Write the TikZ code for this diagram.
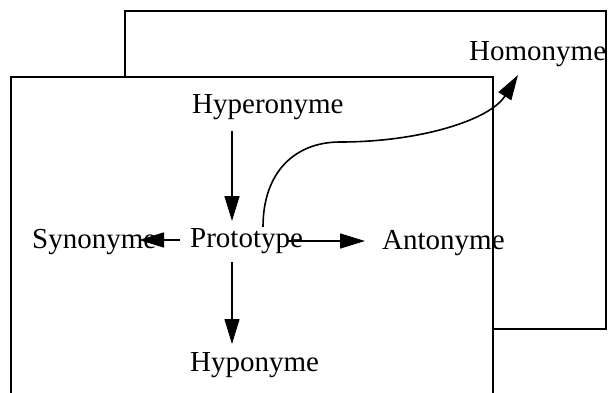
\documentclass[tikz,border=0pt]{standalone}
\usepackage{fontspec}
\setmainfont{Liberation Serif}
\usetikzlibrary{arrows.meta}
\begin{document}
\begin{tikzpicture}[x=1pt,y=-1pt,
  lbl/.style={anchor=base west,inner sep=0pt,font=\fontsize{29}{32}\selectfont},
  frame/.style={draw=black,line width=2pt,fill=white},
  arr/.style={line width=1.6pt,-{Triangle[length=25pt,width=15pt]}}]
\useasboundingbox (0,0) rectangle (608,392);
\draw[frame] (125,11) rectangle (606,329);
\draw[frame] (11,77) rectangle (493,396);
\node[lbl] (homo) at (469,60) {Homonyme};
\node[lbl] (hyper) at (192,113) {Hyperonyme};
\node[lbl] (proto) at (190,247) {Prototype};
\node[lbl] (syn) at (32,248) {Synonyme};
\node[lbl] (ant) at (382,249) {Antonyme};
\node[lbl] (hypo) at (190,371) {Hyponyme};
\coordinate (a1) at (232,131);
\coordinate (a2) at (232,221);
\coordinate (b1) at (232,262);
\coordinate (b2) at (232,344);
\coordinate (c1) at (180,240);
\coordinate (c2) at (139,240);
\coordinate (d1) at (288,241);
\coordinate (d2) at (365,241);
\coordinate (e1) at (263,227);
\coordinate (e2) at (518,75);
\draw[arr] (a1) -- (a2);
\draw[arr] (b1) -- (b2);
\draw[arr] (c1) -- (c2);
\draw[arr] (d1) -- (d2);
\draw[arr] (e1) .. controls (263,172) and (295,142) .. (340,142)
  .. controls (420,142) and (490,120) .. (e2);
\end{tikzpicture}
\end{document}
